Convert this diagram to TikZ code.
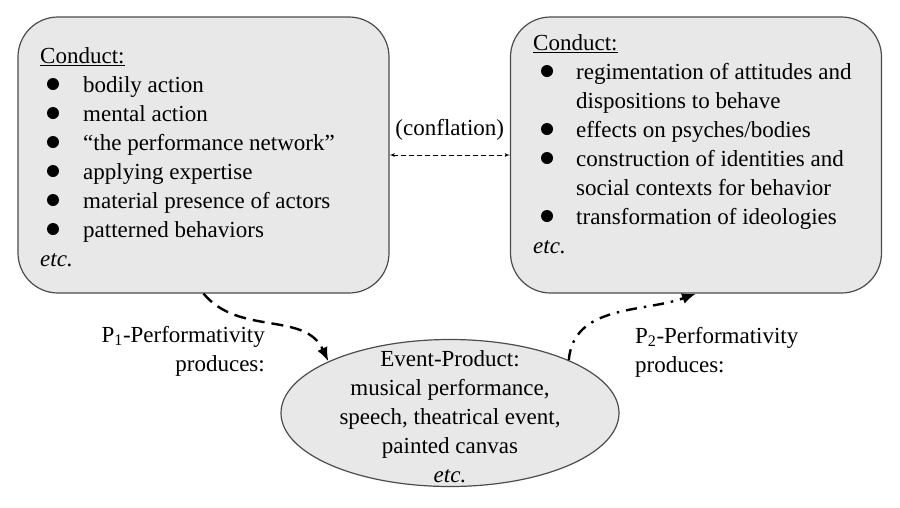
\documentclass[tikz,border=0pt]{standalone}
\usepackage{fontspec}
\setmainfont{Liberation Serif}
\usepackage{xcolor}
\usepackage{tikz}
\usetikzlibrary{shapes.geometric, arrows, arrows.meta}

\begin{document}
\begin{tikzpicture}[x=1pt, y=1pt]
    % Define the style for the nodes
    \tikzstyle{conduct} = [rectangle, rounded corners=40pt, draw=black!70, line width=1.2pt, fill=gray!18, minimum width=371pt, minimum height=276pt]
    \tikzstyle{product} = [ellipse, draw=black!70, line width=1.2pt, fill=gray!18, minimum width=338pt, minimum height=147pt, inner xsep=0pt, inner ysep=-30pt, align=center, font=\fontsize{23}{29}\selectfont]
    \tikzstyle{list} = [inner sep=0pt, anchor=north west, font=\fontsize{23}{29}\selectfont]
    \tikzstyle{tag} = [inner sep=0pt, font=\fontsize{23}{29}\selectfont]
    \tikzstyle{line} = [draw, -{Latex[length=14pt, width=11pt]}, line width=2.4pt]
    \tikzstyle{pdash} = [line, dash pattern=on 12pt off 7pt]
    \tikzstyle{pdashdot} = [line, dash pattern=on 11pt off 7pt on 2.5pt off 7pt]
    \tikzstyle{conflate} = [draw, latex'-latex', line width=0.8pt, dash pattern=on 5pt off 3pt]

    \useasboundingbox (0,0) rectangle (900,-507);

    % Place the nodes
    \node [conduct] (left) at (203.5,-155) {};
    \node [conduct] (right) at (696,-155) {};
    \node [product] (prod) at (450,-413) {\rule{0pt}{24pt}Event-Product:\\musical performance,\\speech, theatrical event,\\painted canvas\\\textit{etc.}};

    \node [list] (leftlist) at (40,-42.7) {\begin{tabular}{@{}p{43pt}@{}l@{}}
        \multicolumn{2}{@{}l@{}}{\underline{Conduct:}}\\
        & bodily action\\
        & mental action\\
        & ``the performance network''\\
        & applying expertise\\
        & material presence of actors\\
        & patterned behaviors\\
        \multicolumn{2}{@{}l@{}}{\textit{etc.}}
    \end{tabular}};
    \node [list] (rightlist) at (533,-29.7) {\begin{tabular}{@{}p{43pt}@{}l@{}}
        \multicolumn{2}{@{}l@{}}{\underline{Conduct:}}\\
        & regimentation of attitudes and\\
        & dispositions to behave\\
        & effects on psyches/bodies\\
        & construction of identities and\\
        & social contexts for behavior\\
        & transformation of ideologies\\
        \multicolumn{2}{@{}l@{}}{\textit{etc.}}
    \end{tabular}};

    % bullets
    \foreach \y in {84,113,142,171,200,229}
        \fill (53,-\y) circle (6pt);
    \foreach \y in {71,129,158,216}
        \fill (547,-\y) circle (6pt);

    \node [tag, anchor=east, align=right] (pone) at (265,-351) {P\textsubscript{1}-Performativity\\produces:};
    \node [tag, anchor=west, align=left] (ptwo) at (635,-352) {P\textsubscript{2}-Performativity\\produces:};

    % Connect the nodes with paths
    \path [conflate] (left.east) -- node[tag, above=14pt] (conf) {(conflation)} (right.west);
    \path [pdash] (left.south) to [out=-50, in=115] (prod.157);
    \path [pdashdot] (prod.24) to [out=85, in=200] (right.south);

\end{tikzpicture}
\end{document}
